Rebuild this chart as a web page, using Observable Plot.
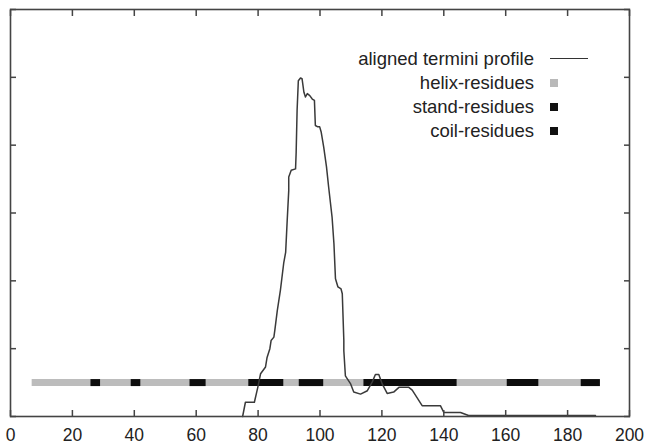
<!DOCTYPE html>
<html>
<head>
<meta charset="utf-8">
<script src="https://cdn.jsdelivr.net/npm/d3@7"></script>
<script src="https://cdn.jsdelivr.net/npm/@observablehq/plot@0.6"></script>
<style>
  html, body { margin: 0; padding: 0; background: #fff; }
  #wrap { position: relative; width: 646px; height: 444px; font-family: "Liberation Sans", Arial, sans-serif; }
  #legend { position: absolute; left: 0; top: 0; width: 646px; height: 444px; pointer-events: none; }
  .row { position: absolute; left: 0; width: 646px; height: 24px; }
  .lab { position: absolute; right: 112px; top: 0; line-height: 24px; font-size: 18.5px; color: #222; white-space: nowrap; }
  .swl { position: absolute; left: 550px; top: 11px; width: 38px; height: 0; border-top: 1.5px solid #333; }
  .sq { position: absolute; left: 550px; top: 8px; width: 8px; height: 8px; }
</style>
</head>
<body>
<div id="wrap"><div id="legend"></div></div>
<script>
// ---- data ----
const xTicks = [0, 20, 40, 60, 80, 100, 120, 140, 160, 180, 200];
const yTicks = [0, 1, 2, 3, 4, 5, 6];

const profileX = [75.0, 75.9, 78.8, 79.9, 80.8, 82.4, 82.9, 83.8, 84.2, 85.1, 85.4, 86.2, 87.2, 88.3, 88.9, 89.4, 89.9, 89.9, 90.7, 92.1, 92.3, 92.6, 93.0, 93.7, 94.2, 94.8, 95.3, 95.9, 96.7, 97.5, 98.2, 98.5, 99.3, 99.9, 100.4, 101.2, 102.1, 102.8, 103.9, 104.5, 105.0, 105.8, 106.8, 107.2, 107.7, 107.7, 108.2, 109.9, 110.9, 113.1, 115.3, 116.9, 117.9, 119.0, 120.1, 121.7, 123.8, 125.5, 128.7, 129.8, 133.0, 138.9, 140.0, 145.4, 148.0, 189.0];
const profileY = [0, 0.21, 0.21, 0.43, 0.63, 0.73, 0.87, 1.0, 1.12, 1.17, 1.27, 1.56, 1.86, 2.27, 2.42, 2.89, 3.33, 3.53, 3.63, 3.65, 3.9, 4.51, 4.95, 4.99, 4.98, 4.78, 4.71, 4.76, 4.73, 4.68, 4.66, 4.29, 4.27, 4.27, 4.19, 3.97, 3.68, 3.38, 2.94, 2.55, 2.03, 1.91, 1.88, 1.81, 1.12, 0.97, 0.60, 0.48, 0.36, 0.33, 0.38, 0.51, 0.62, 0.62, 0.48, 0.34, 0.36, 0.43, 0.43, 0.39, 0.16, 0.16, 0.06, 0.06, 0.015, 0.015];

const residueLevel = 0.5;
const helixStart = [7];
const helixEnd = [190.5];
const strandStart = [26, 39, 58, 77, 93.3];
const strandEnd = [29.1, 42.1, 63.2, 88.3, 101.2];
const coilStart = [114.2, 160.5, 184.4];
const coilEnd = [144.3, 170.7, 190.6];

const legendLabels = ["aligned termini profile", "helix-residues", "stand-residues", "coil-residues"];
const legendColors = ["#333", "#b9b9b9", "#111", "#111"];

// ---- tables ----
const profile = profileX.map((x, i) => ({x, y: profileY[i]}));
const helix = helixStart.map((s, i) => ({s, e: helixEnd[i]}));
const strand = strandStart.map((s, i) => ({s, e: strandEnd[i]}));
const coil = coilStart.map((s, i) => ({s, e: coilEnd[i]}));

const frameColor = "#444";
const blank = () => "";

const chart = Plot.plot({
  width: 646,
  height: 444,
  marginLeft: 10,
  marginRight: 17,
  marginTop: 9,
  marginBottom: 28,
  style: {fontSize: "17.5px", fontFamily: "Liberation Sans, Arial, sans-serif", color: "#222", background: "white", overflow: "visible"},
  x: {domain: [0, 200]},
  y: {domain: [0, 6]},
  marks: [
    Plot.ruleY(helix, {y: () => residueLevel, x1: "s", x2: "e", stroke: "#bcbcbc", strokeWidth: 7}),
    Plot.ruleY(strand, {y: () => residueLevel, x1: "s", x2: "e", stroke: "#0d0d0d", strokeWidth: 7}),
    Plot.ruleY(coil, {y: () => residueLevel, x1: "s", x2: "e", stroke: "#0d0d0d", strokeWidth: 7}),
    Plot.line(profile, {x: "x", y: "y", stroke: "#3a3a3a", strokeWidth: 1.5}),
    Plot.axisX({anchor: "bottom", ticks: xTicks, tickSize: -6, tickFormat: blank, label: null, stroke: frameColor, strokeWidth: 1.5}),
    Plot.axisX({anchor: "bottom", ticks: xTicks, tickSize: 0, tickPadding: 12, tickFormat: d => String(d), label: null}),
    Plot.axisX({anchor: "top", ticks: xTicks, tickSize: -6, tickFormat: blank, label: null, stroke: frameColor, strokeWidth: 1.5}),
    Plot.axisY({anchor: "left", ticks: yTicks, tickSize: -6, tickFormat: blank, label: null, stroke: frameColor, strokeWidth: 1.5}),
    Plot.axisY({anchor: "right", ticks: yTicks, tickSize: -6, tickFormat: blank, label: null, stroke: frameColor, strokeWidth: 1.5}),
    Plot.frame({stroke: frameColor, strokeWidth: 1.6})
  ]
});
document.getElementById("wrap").prepend(chart);

// ---- legend ----
const legend = document.getElementById("legend");
const rowTops = [47, 71, 95, 119];
legendLabels.forEach((t, i) => {
  const row = document.createElement("div");
  row.className = "row";
  row.style.top = rowTops[i] + "px";
  const lab = document.createElement("div");
  lab.className = "lab";
  lab.textContent = t;
  row.appendChild(lab);
  const sw = document.createElement("div");
  if (i === 0) { sw.className = "swl"; sw.style.borderTopColor = legendColors[i]; }
  else { sw.className = "sq"; sw.style.background = legendColors[i]; }
  row.appendChild(sw);
  legend.appendChild(row);
});
</script>
</body>
</html>
